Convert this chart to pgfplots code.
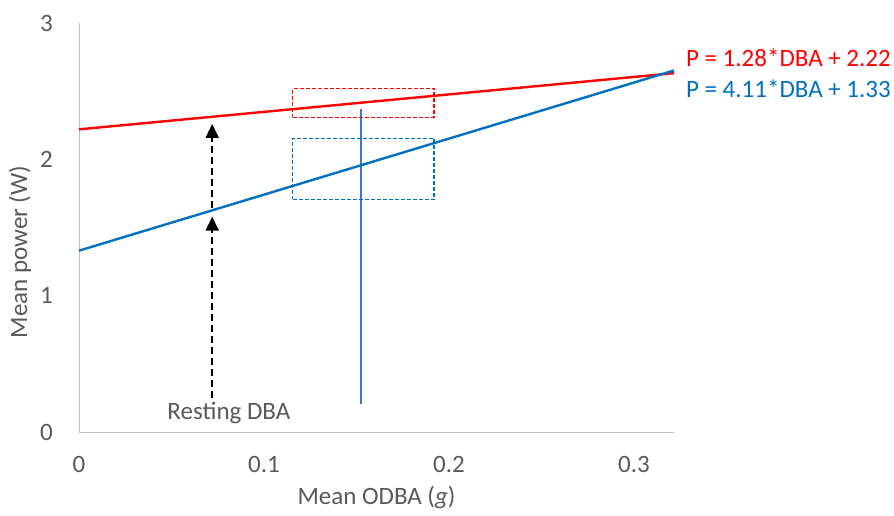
\documentclass[border=0pt]{standalone}
\usepackage{pgfplots}
\pgfplotsset{compat=1.18}
\usetikzlibrary{arrows.meta}
\usepackage{fontspec}
\setmainfont{Carlito}
\definecolor{txt}{HTML}{595959}
\definecolor{axgray}{HTML}{BFBFBF}
\definecolor{xblue}{HTML}{0070C0}
\definecolor{vblue}{HTML}{4472C4}
\newcommand{\fs}{\fontsize{25}{30}\selectfont}
\begin{document}
\begin{tikzpicture}[x=1pt,y=1pt]
\useasboundingbox (0,0) rectangle (894,515);
\begin{axis}[
  at={(79pt,83pt)}, anchor=south west,
  width=595pt, height=409pt, scale only axis,
  xmin=0, xmax=0.3216, ymin=0, ymax=3,
  axis x line*=bottom, axis y line*=left,
  axis line style={axgray, line width=1pt},
  xtick={0,0.1,0.2,0.3}, xticklabels={0,0.1,0.2,0.3},
  ytick={0,1,2,3}, yticklabels={0,1,2,3},
  major tick length=0pt,
  ticklabel style={font=\fs, text=txt, inner sep=0pt},
  xticklabel style={anchor=north, yshift=-24pt},
  yticklabel style={anchor=east, xshift=-26pt},
  xlabel={Mean ODBA (\textit{g})},
  ylabel={Mean power (W)},
  label style={font=\fs, text=txt, inner sep=0pt},
  xlabel style={at={(axis description cs:0.5,0)}, anchor=center, yshift=-65pt},
  ylabel style={at={(axis description cs:-0.099,0.44)}, anchor=center},
  clip=false,
]
% vertical reference line
\addplot[vblue, line width=1.2pt] coordinates {(0.1524,0.205) (0.1524,2.37)};
% dashed boxes
\addplot[red, line width=1.1pt, dash pattern=on 4pt off 2pt] coordinates {(0.1155,2.31) (0.1919,2.31) (0.1919,2.518) (0.1155,2.518) (0.1155,2.31)};
\addplot[xblue, line width=1.1pt, dash pattern=on 4pt off 2pt] coordinates {(0.1155,1.707) (0.1919,1.707) (0.1919,2.156) (0.1155,2.156) (0.1155,1.707)};
% regression lines
\addplot[red, line width=2.4pt] coordinates {(0,2.22) (0.3216,2.632)};
\addplot[xblue, line width=2.4pt] coordinates {(0,1.33) (0.3216,2.652)};
% dashed arrows
\addplot[black, line width=1.5pt, dash pattern=on 7pt off 4pt, -{Triangle[length=14pt,width=13pt]}] coordinates {(0.072,0.25) (0.072,1.58)};
\addplot[black, line width=1.5pt, dash pattern=on 7pt off 4pt, -{Triangle[length=14pt,width=13pt]}] coordinates {(0.072,1.64) (0.072,2.26)};
% annotations
\node[font=\fs, text=txt, inner sep=0pt] at (axis cs:0.081,0.14) {Resting DBA};
\node[font=\fs, text=red, anchor=west, inner sep=0pt] at (axis cs:0.328,2.743) {P = 1.28*DBA + 2.22};
\node[font=\fs, text=xblue, anchor=west, inner sep=0pt] at (axis cs:0.328,2.516) {P = 4.11*DBA + 1.33};
\end{axis}
\end{tikzpicture}
\end{document}
